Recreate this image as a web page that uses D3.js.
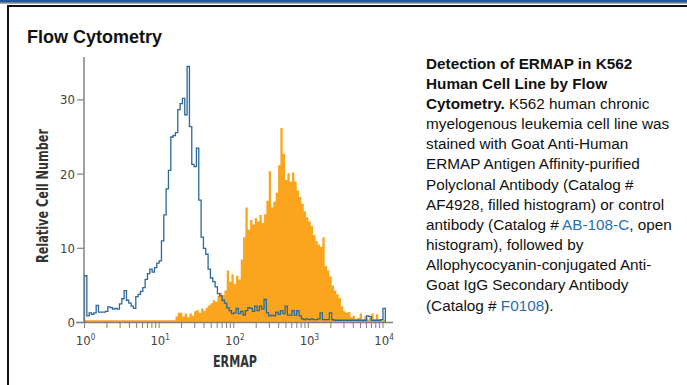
<!DOCTYPE html>
<html>
<head>
<meta charset="utf-8">
<script src="https://cdn.jsdelivr.net/npm/d3@7"></script>
<style>
  body { margin: 0; background: #fff; }
  svg { display: block; }
  .cond { font-family: "Liberation Sans Narrow", "DejaVu Sans Condensed", "DejaVu Sans", sans-serif; font-stretch: condensed; }
  .caption { font-family: "Liberation Sans", Arial, sans-serif; font-size: 15.3px; fill: #111; }
</style>
</head>
<body>
<svg id="fig" width="687" height="385"></svg>
<script>
// histogram channels, 32 per decade starting at 10^0
var binsPerDecade = 32

// control antibody (open histogram)
var controlCounts = [
  6.3, 0.9, 1.3, 1.1, 1.3, 2.3, 1.4, 1.4, 1.4, 1.5,
  2.1, 2.0, 1.8, 1.9, 1.8, 2.5, 3.2, 4.3, 3.0, 2.6,
  2.2, 1.9, 3.5, 3.8, 4.2, 4.7, 5.8, 6.6, 7.2, 6.8,
  7.4, 8.0, 8.3, 11.0, 14.5, 18.0, 20.5, 25.0, 25.2, 25.6,
  28.7, 29.5, 30.2, 28.0, 34.5, 26.4, 21.3, 21.0, 23.5, 16.5,
  11.5, 10.0, 9.2, 7.2, 6.0, 5.5, 4.8, 3.9, 3.6, 3.0,
  2.6, 2.0, 1.6, 1.2, 1.3, 1.9, 1.2, 1.5, 1.0, 1.6,
  2.0, 1.9, 1.5, 2.2, 1.6, 2.2, 1.8, 3.1, 1.3, 0.9,
  1.0, 0.9, 1.4, 1.1, 1.6, 1.2, 2.2, 1.0, 1.0, 1.6,
  1.0, 1.6, 0.9, 0.5, 0.4, 0.5, 0.4, 0.5, 0.4, 0.4,
  0.5, 1.3, 0.4, 0.4, 0.4, 1.3, 0.4, 0.3, 0.3, 0.3,
  0.3, 0.3, 0.3, 0.3, 0.3, 0.3, 0.3, 0.3, 0.3, 0.3,
  0.3, 0.9, 0.8, 0.3, 0.3, 0.3, 0.3, 0.4, 1.9
]

// ERMAP antibody (filled histogram)
var ermapCounts = [
  0.3, 0.3, 0.3, 0.3, 0.3, 0.3, 0.3, 0.3, 0.3, 0.3,
  0.3, 0.3, 0.3, 0.3, 0.3, 0.3, 0.3, 0.3, 0.3, 0.3,
  0.3, 0.3, 0.3, 0.3, 0.3, 0.3, 0.3, 0.3, 0.3, 0.3,
  0.3, 0.3, 0.3, 0.3, 0.3, 0.3, 0.3, 0.3, 0.3, 0.8,
  1.3, 1.3, 0.8, 1.2, 0.7, 1.2, 0.9, 1.5, 1.7, 1.3,
  1.9, 1.6, 2.0, 2.3, 2.6, 3.0, 2.8, 3.6, 4.0, 3.7,
  4.3, 7.0, 5.5, 6.5, 5.2, 6.3, 5.8, 8.5, 11.5, 15.5,
  12.5, 13.8, 13.2, 14.1, 13.6, 14.5, 13.4, 14.6, 16.4, 20.4,
  15.5, 16.3, 17.5, 21.2, 26.2, 22.7, 19.2, 20.1, 19.0, 20.2,
  19.0, 17.8, 16.9, 16.0, 15.0, 14.2, 13.6, 13.0, 11.8, 11.0,
  10.5, 10.2, 11.5, 7.6, 7.0, 6.2, 5.0, 4.3, 3.8, 3.3,
  2.2, 1.5, 1.3, 1.4, 0.7, 0.9, 0.5, 0.6, 1.2, 0.4,
  0.9, 0.4, 0.6, 1.2, 0.4, 1.1, 0.4, 0.3, 0.3
]

var yTicks = [0, 10, 20, 30]
var xDecades = [0, 1, 2, 3, 4]

var captionLines = [
  [["Detection of ERMAP in K562", "b"]],
  [["Human Cell Line by Flow", "b"]],
  [["Cytometry.", "b"], [" K562 human chronic", ""]],
  [["myelogenous leukemia cell line was", ""]],
  [["stained with Goat Anti-Human", ""]],
  [["ERMAP Antigen Affinity-purified", ""]],
  [["Polyclonal Antibody (Catalog #", ""]],
  [["AF4928, filled histogram) or control", ""]],
  [["antibody (Catalog # ", ""], ["AB-108-C", "link"], [", open", ""]],
  [["histogram), followed by", ""]],
  [["Allophycocyanin-conjugated Anti-", ""]],
  [["Goat IgG Secondary Antibody", ""]],
  [["(Catalog # ", ""], ["F0108", "link"], [").", ""]]
]

var svg = d3.select("#fig")

// page frame
svg.append("rect").attr("x", 0).attr("y", 0).attr("width", 687).attr("height", 2.5).attr("fill", "#1f5b99")
svg.append("rect").attr("x", 0).attr("y", 2.5).attr("width", 687).attr("height", 1).attr("fill", "#555")
svg.append("rect").attr("x", 7).attr("y", 5).attr("width", 680).attr("height", 2).attr("fill", "#111")
svg.append("rect").attr("x", 7).attr("y", 5).attr("width", 2).attr("height", 380).attr("fill", "#111")

svg.append("text")
  .attr("x", 27).attr("y", 43)
  .attr("font-family", "Liberation Sans, Arial, sans-serif")
  .attr("font-weight", "bold").attr("font-size", 18)
  .attr("fill", "#111")
  .text("Flow Cytometry")

// scales
var x = d3.scaleLog().domain([1, 1e4]).range([84.5, 383])
var y = d3.scaleLinear().domain([0, 10]).range([322.5, 248.3])

var edges = controlCounts.map((d, i) => Math.pow(10, i / binsPerDecade))
var lastEdge = Math.pow(10, controlCounts.length / binsPerDecade)

function stepPoints(counts) {
  var pts = counts.map((c, i) => [edges[i], c])
  pts.push([lastEdge, counts[counts.length - 1]])
  return pts
}

// filled histogram
svg.append("path")
  .datum(stepPoints(ermapCounts))
  .attr("fill", "#fba51f")
  .attr("d", d3.area().curve(d3.curveStepAfter)
    .x(d => x(d[0])).y0(y(0)).y1(d => y(d[1])))

// open histogram
var ctrl = [[1, 0]].concat(stepPoints(controlCounts)).concat([[lastEdge, 0]])
svg.append("path")
  .datum(ctrl)
  .attr("fill", "none")
  .attr("stroke", "#2c6898")
  .attr("stroke-width", 1.3)
  .attr("d", d3.line().curve(d3.curveStepAfter)
    .x(d => x(d[0])).y(d => y(d[1])))

// y axis
var axisColor = "#808080"
svg.append("line")
  .attr("x1", 84).attr("x2", 84).attr("y1", 57).attr("y2", y(0))
  .attr("stroke", axisColor).attr("stroke-width", 1.5)
var yAxis = svg.append("g").attr("class", "cond")
yAxis.selectAll("line").data(yTicks).join("line")
  .attr("x1", 77).attr("x2", 84)
  .attr("y1", d => y(d)).attr("y2", d => y(d))
  .attr("stroke", axisColor).attr("stroke-width", 1.2)
yAxis.selectAll("text").data(yTicks).join("text")
  .attr("x", 75).attr("y", d => y(d) + 4.5)
  .attr("text-anchor", "end").attr("font-size", 13).attr("fill", "#444")
  .text(d => d)

svg.append("text")
  .attr("class", "cond")
  .attr("transform", "translate(48,196) rotate(-90)")
  .attr("text-anchor", "middle").attr("font-size", 16).attr("font-weight", "bold")
  .attr("textLength", 134).attr("lengthAdjust", "spacingAndGlyphs")
  .attr("fill", "#333")
  .text("Relative Cell Number")

// x axis
svg.append("line")
  .attr("x1", 76).attr("x2", 393).attr("y1", y(0)).attr("y2", y(0))
  .attr("stroke", axisColor).attr("stroke-width", 1.5)
var minor = []
xDecades.slice(0, -1).forEach(p => {
  for (var k = 1; k <= 9; k++) minor.push(k * Math.pow(10, p))
})
minor.push(1e4)
svg.append("g").selectAll("line").data(minor).join("line")
  .attr("x1", d => x(d)).attr("x2", d => x(d))
  .attr("y1", y(0)).attr("y2", y(0) + 5.5)
  .attr("stroke", axisColor).attr("stroke-width", 1)

var xl = svg.append("g").attr("class", "cond").selectAll("text").data(xDecades).join("text")
  .attr("x", d => x(Math.pow(10, d)) + 1).attr("y", 345)
  .attr("text-anchor", "middle").attr("font-size", 13).attr("fill", "#444")
xl.append("tspan").text("10")
xl.append("tspan").attr("dy", -5).attr("font-size", 8).text(d => d)

svg.append("text")
  .attr("class", "cond")
  .attr("x", 235).attr("y", 367)
  .attr("text-anchor", "middle").attr("font-size", 16).attr("font-weight", "bold")
  .attr("textLength", 44).attr("lengthAdjust", "spacingAndGlyphs")
  .attr("fill", "#333")
  .text("ERMAP")

// caption
var cap = svg.append("g").attr("class", "caption")
captionLines.forEach((parts, i) => {
  var t = cap.append("text").attr("x", 426).attr("y", 68.5 + i * 20.17)
  parts.forEach(p => {
    var s = t.append("tspan").text(p[0])
    if (p[1] == "b") s.attr("font-weight", "bold")
    if (p[1] == "link") s.attr("fill", "#2a6db0")
  })
})
</script>
</body>
</html>
